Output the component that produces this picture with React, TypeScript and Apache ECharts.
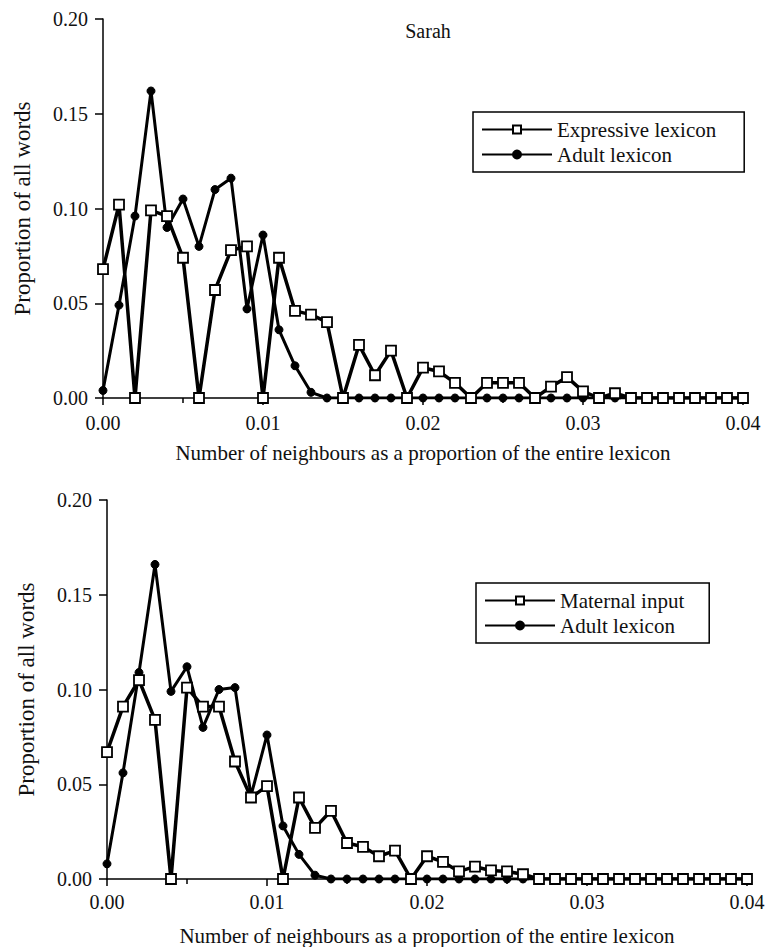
import React, { useEffect, useRef } from "react";
import * as echarts from "echarts";

const X_VALUES = [
  0, 0.001, 0.002, 0.003, 0.004, 0.005, 0.006, 0.007, 0.008, 0.009, 0.01,
  0.011, 0.012, 0.013, 0.014, 0.015, 0.016, 0.017, 0.018, 0.019, 0.02,
  0.021, 0.022, 0.023, 0.024, 0.025, 0.026, 0.027, 0.028, 0.029, 0.03,
  0.031, 0.032, 0.033, 0.034, 0.035, 0.036, 0.037, 0.038, 0.039, 0.04,
];

const TOP_EXPRESSIVE = [
  0.068, 0.102, 0, 0.099, 0.096, 0.074, 0, 0.057, 0.078, 0.08, 0,
  0.074, 0.046, 0.044, 0.04, 0, 0.028, 0.012, 0.025, 0, 0.016,
  0.014, 0.008, 0, 0.008, 0.008, 0.008, 0, 0.006, 0.011, 0.0035,
  0, 0.0025, 0, 0, 0, 0, 0, 0, 0, 0,
];

const TOP_ADULT = [
  0.004, 0.049, 0.096, 0.162, 0.09, 0.105, 0.08, 0.11, 0.116, 0.047, 0.086,
  0.036, 0.017, 0.003, 0, 0, 0, 0, 0, 0, 0,
  0, 0, 0, 0, 0, 0, 0, 0, 0, 0,
  0, 0, 0, 0, 0, 0, 0, 0, 0, 0,
];

const BOTTOM_MATERNAL = [
  0.067, 0.091, 0.105, 0.084, 0, 0.101, 0.091, 0.091, 0.062, 0.043, 0.049,
  0, 0.043, 0.027, 0.036, 0.019, 0.017, 0.012, 0.015, 0, 0.012,
  0.009, 0.004, 0.0065, 0.0045, 0.004, 0.0025, 0, 0, 0, 0,
  0, 0, 0, 0, 0, 0, 0, 0, 0, 0,
];

const BOTTOM_ADULT = [
  0.008, 0.056, 0.109, 0.166, 0.099, 0.112, 0.08, 0.1, 0.101, 0.044, 0.076,
  0.028, 0.013, 0.002, 0, 0, 0, 0, 0, 0, 0,
  0, 0, 0, 0, 0, 0, 0, 0, 0, 0,
  0, 0, 0, 0, 0, 0, 0, 0, 0, 0,
];

const Y_TITLE = "Proportion of all words";
const X_TITLE = "Number of neighbours as a proportion of the entire lexicon";
const CHART_TITLE = "Sarah";

const FONT = "Liberation Serif";

const pairs = (ys: number[]) => X_VALUES.map((x, i) => [x, ys[i]]);

function xAxis(gridIndex: number, margin: number, nameGap: number) {
  return {
    type: "value",
    gridIndex,
    min: 0,
    max: 0.04,
    interval: 0.01,
    name: X_TITLE,
    nameLocation: "middle",
    nameGap,
    nameTextStyle: { fontFamily: FONT, fontSize: 21, color: "#111", verticalAlign: "top" },
    axisLine: { show: true, onZero: false, lineStyle: { color: "#000", width: 1.5 } },
    axisTick: { show: true, length: 7, lineStyle: { color: "#000", width: 1.5 } },
    minorTick: { show: true, splitNumber: 2, length: 5, lineStyle: { color: "#000", width: 1.5 } },
    splitLine: { show: false },
    axisLabel: {
      fontFamily: FONT,
      fontSize: 20,
      color: "#111",
      margin,
      formatter: (v: number) => v.toFixed(2),
    },
  };
}

function yAxis(gridIndex: number) {
  return {
    type: "value",
    gridIndex,
    min: 0,
    max: 0.2,
    interval: 0.05,
    name: Y_TITLE,
    nameLocation: "middle",
    nameGap: 69,
    nameTextStyle: { fontFamily: FONT, fontSize: 23, color: "#111" },
    axisLine: { show: true, lineStyle: { color: "#000", width: 1.5 } },
    axisTick: { show: true, length: 8, lineStyle: { color: "#000", width: 1.5 } },
    splitLine: { show: false },
    axisLabel: {
      fontFamily: FONT,
      fontSize: 20,
      color: "#111",
      margin: 15,
      formatter: (v: number) => v.toFixed(2),
    },
  };
}

function squareSeries(name: string, idx: number, ys: number[]) {
  return {
    name,
    type: "line",
    xAxisIndex: idx,
    yAxisIndex: idx,
    data: pairs(ys),
    symbol: "rect",
    symbolSize: 10,
    z: 3,
    lineStyle: { color: "#000", width: 3.5 },
    itemStyle: { color: "#fff", borderColor: "#000", borderWidth: 1.8 },
  };
}

function circleSeries(name: string, idx: number, ys: number[]) {
  return {
    name,
    type: "line",
    xAxisIndex: idx,
    yAxisIndex: idx,
    data: pairs(ys),
    symbol: "circle",
    symbolSize: 8,
    z: 2,
    lineStyle: { color: "#000", width: 3 },
    itemStyle: { color: "#000", borderColor: "#000", borderWidth: 1 },
  };
}

export default function App() {
  const ref = useRef<HTMLDivElement>(null);

  useEffect(() => {
    if (!ref.current) return;
    const chart = echarts.init(ref.current, undefined, { renderer: "svg" });
    const legendBase = {
      orient: "vertical",
      itemWidth: 70,
      itemHeight: 10,
      itemGap: 4,
      backgroundColor: "#fff",
      borderColor: "#000",
      borderWidth: 1.5,
      textStyle: { fontFamily: FONT, fontSize: 21, color: "#111" },
    };
    chart.setOption({
      animation: false,
      backgroundColor: "#fff",
      grid: [
        { left: 103, top: 19, width: 640, height: 379 },
        { left: 107, top: 500, width: 640, height: 379 },
      ],
      xAxis: [xAxis(0, 15, 44), xAxis(1, 13, 46)],
      yAxis: [yAxis(0), yAxis(1)],
      legend: [
        {
          ...legendBase,
          left: 473,
          top: 112,
          padding: [7, 28, 7, 8],
          data: ["Expressive lexicon", "Adult lexicon"],
        },
        {
          ...legendBase,
          left: 476,
          top: 583,
          padding: [7, 25, 7, 8],
          data: ["Maternal input", "Adult lexicon "],
        },
      ],
      graphic: [
        {
          type: "text",
          x: 428,
          y: 31,
          style: {
            text: CHART_TITLE,
            fontFamily: FONT,
            fontSize: 20,
            fill: "#111",
            align: "center",
            verticalAlign: "middle",
          },
        },
      ],
      series: [
        circleSeries("Adult lexicon", 0, TOP_ADULT),
        squareSeries("Expressive lexicon", 0, TOP_EXPRESSIVE),
        circleSeries("Adult lexicon ", 1, BOTTOM_ADULT),
        squareSeries("Maternal input", 1, BOTTOM_MATERNAL),
      ],
    });
    return () => chart.dispose();
  }, []);

  return (
    <div
      ref={ref}
      style={{ position: "absolute", left: 0, top: 0, width: 768, height: 947 }}
    />
  );
}
